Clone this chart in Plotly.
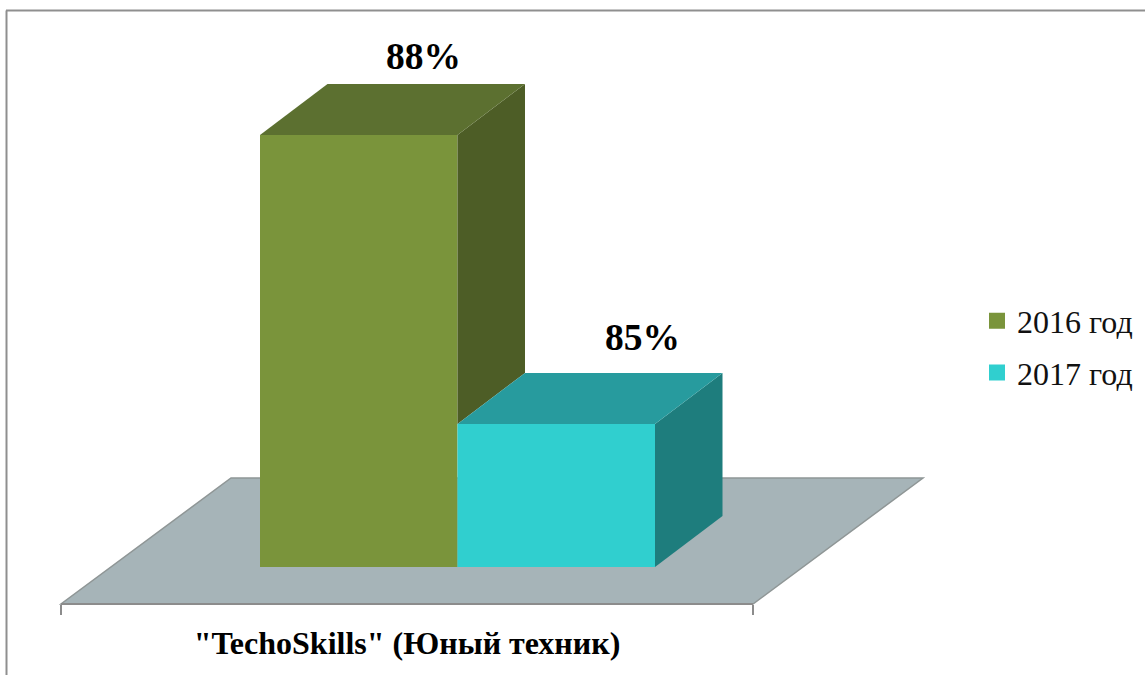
import plotly.graph_objects as go

# ---- data ----
CATEGORY = ['"TechoSkills" (Юный техник)']
SERIES = ["2016 год", "2017 год"]
VALUES = [88, 85]
FRONT_COLORS = ["#7A943B", "#30CFCF"]
TOP_COLORS = ["#5C7030", "#279B9E"]
SIDE_COLORS = ["#4D5D26", "#1E7D7D"]

# ---- layout constants ----
W, H = 1145, 675
AX_L, AX_R = 61, 753      # category band (px)
FLOOR_FRONT, FLOOR_BACK = 604, 478
FLOOR_SHIFT = 170
BAR_BOTTOM, PLOT_TOP = 567, 12
PX_PER_UNIT = (424 - 135) / 3.0
Y_MIN = 88 - (BAR_BOTTOM - 135) / PX_PER_UNIT
Y_MAX = Y_MIN + (BAR_BOTTOM - PLOT_TOP) / PX_PER_UNIT
BAND = AX_R - AX_L
BAR_W = 197.5 / BAND
BAR_START = (260 - (AX_L + AX_R) / 2) / BAND   # left edge of the first bar, from the band centre
DX = 67.5 / BAND
DY = 51 / PX_PER_UNIT
LABEL_DX = [-2.5 / BAND, 18.5 / BAND]
LABEL_DY = [28 / PX_PER_UNIT, 36 / PX_PER_UNIT]
SERIF = "Liberation Serif"


def px(v):
    return v / W


def py(v):
    return 1 - v / H


fig = go.Figure()

# front faces: real bars
for i, (name, value, color) in enumerate(zip(SERIES, VALUES, FRONT_COLORS)):
    fig.add_trace(go.Bar(name=name, x=CATEGORY, y=[value], marker=dict(color=color, line_width=0),
                         width=BAR_W, offset=BAR_START + i * BAR_W,
                         xaxis="x", yaxis="y", hoverinfo="name+y", legendgroup=name, showlegend=False))

# legend keys (no plotted points)
for name, color in zip(SERIES, FRONT_COLORS):
    fig.add_trace(go.Scatter(name=name, x=[None], y=[None], xaxis="x2", yaxis="y", mode="markers",
                             marker=dict(symbol="square", size=16, color=color), legendgroup=name,
                             hoverinfo="skip"))

# depth faces, derived from the values
for i, value in enumerate(VALUES):
    x0 = BAR_START + i * BAR_W
    x1 = x0 + BAR_W
    nxt = VALUES[i + 1] if i + 1 < len(VALUES) else Y_MIN
    fig.add_trace(go.Scatter(
        x=[x1, x1 + DX, x1 + DX, x1, x1], y=[value, value + DY, nxt + DY, nxt, value],
        xaxis="x2", yaxis="y", mode="lines", fill="toself", fillcolor=SIDE_COLORS[i],
        line=dict(width=0), showlegend=False, hoverinfo="skip"))
    fig.add_trace(go.Scatter(
        x=[x0, x0 + DX, x1 + DX, x1, x0], y=[value, value + DY, value + DY, value, value],
        xaxis="x2", yaxis="y", mode="lines", fill="toself", fillcolor=TOP_COLORS[i],
        line=dict(width=0), showlegend=False, hoverinfo="skip"))
    fig.add_annotation(x=x0 + BAR_W / 2 + DX + LABEL_DX[i], y=value + DY + LABEL_DY[i],
                       xref="x2", yref="y", text=f"{value}%", showarrow=False,
                       font=dict(family=SERIF, size=37.5, color="#000000", weight="bold"),
                       xanchor="center", yanchor="middle")

fig.update_layout(
    width=W, height=H, autosize=False,
    margin=dict(l=0, r=0, t=0, b=0),
    paper_bgcolor="#FFFFFF", plot_bgcolor="rgba(0,0,0,0)",
    barmode="overlay",
    xaxis=dict(
        domain=[px(AX_L), px(AX_R)], type="category", anchor="free", position=py(FLOOR_FRONT),
        tickson="boundaries", ticks="outside", ticklen=10, tickwidth=2, tickcolor="#8C8C8C",
        showline=True, linecolor="#8C8C8C", linewidth=2, showgrid=False, zeroline=False,
        tickfont=dict(family=SERIF, size=32, color="#000000", weight="bold"),
        ticklabelstandoff=11,
    ),
    xaxis2=dict(domain=[px(AX_L), px(AX_R)], range=[-0.5, 0.5], overlaying="x", anchor="y",
                visible=False, fixedrange=True),
    yaxis=dict(domain=[py(BAR_BOTTOM), py(PLOT_TOP)], range=[Y_MIN, Y_MAX], visible=False,
               showgrid=False, zeroline=False),
    legend=dict(x=px(977), xanchor="left", y=py(347), yanchor="middle",
                font=dict(family=SERIF, size=32, color="#111111"),
                traceorder="grouped", bgcolor="rgba(0,0,0,0)", itemclick=False, itemdoubleclick=False,
                tracegroupgap=7),
    shapes=[
        dict(type="path", xref="paper", yref="paper", layer="below",
             path=(f"M{px(AX_L)},{py(FLOOR_FRONT)} L{px(AX_R)},{py(FLOOR_FRONT)} "
                   f"L{px(AX_R + FLOOR_SHIFT)},{py(FLOOR_BACK)} L{px(AX_L + FLOOR_SHIFT)},{py(FLOOR_BACK)} Z"),
             fillcolor="#A6B4B8", line=dict(color="#8F9696", width=1.5)),
        dict(type="line", xref="paper", yref="paper", layer="below",
             x0=px(6.5), x1=px(6.5), y0=0, y1=py(10.5), line=dict(color="#8F8F8F", width=2)),
        dict(type="line", xref="paper", yref="paper", layer="below",
             x0=px(6), x1=1, y0=py(10.5), y1=py(10.5), line=dict(color="#8F8F8F", width=2)),
    ],
)

fig.write_html(
    "out.html",
    config=dict(displayModeBar=False),
    post_script="document.body.style.margin='0';document.documentElement.style.overflow='hidden';",
)
